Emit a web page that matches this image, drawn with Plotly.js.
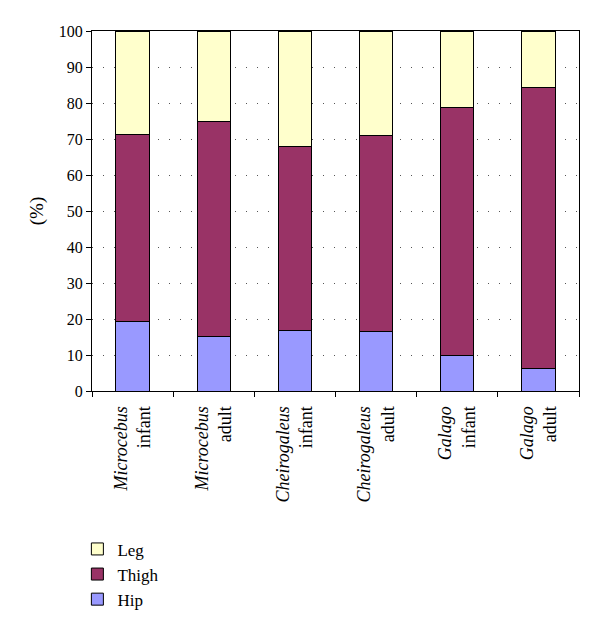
<!DOCTYPE html>
<html>
<head>
<meta charset="utf-8">
<script src="https://cdn.plot.ly/plotly-3.0.1.min.js"></script>
<style>
  html, body { margin: 0; padding: 0; background: #fff; }
  #graphDiv { width: 600px; height: 630px; }
</style>
</head>
<body>
<div id="graphDiv"></div>
<script>
// Groups along the x axis (genus in italics, age below)
var genus = ['Microcebus', 'Microcebus', 'Cheirogaleus', 'Cheirogaleus', 'Galago', 'Galago'];
var age = ['infant', 'adult', 'infant', 'adult', 'infant', 'adult'];

// Share of each segment, in percent
var hip = [19.4, 15.1, 16.8, 16.4, 9.9, 6.2];
var thigh = [51.9, 59.8, 51.0, 54.7, 68.9, 78.1];
var leg = [28.7, 25.1, 32.2, 28.9, 21.2, 15.7];

var yTicks = [0, 10, 20, 30, 40, 50, 60, 70, 80, 90, 100];

var labels = [];
for (var i = 0; i < genus.length; i++) {
  labels.push('<i>' + genus[i] + '</i><br>' + age[i]);
}

function barTrace(name, values, color) {
  return {
    x: labels,
    y: values,
    type: 'bar',
    name: name,
    marker: { color: color, line: { color: '#000', width: 1 } },
    hoverinfo: 'none'
  };
}

var data = [
  barTrace('Hip', hip, '#9999FF'),
  barTrace('Thigh', thigh, '#993366'),
  barTrace('Leg', leg, '#FFFFCC')
];

var layout = {
  width: 600,
  height: 630,
  margin: { l: 92, r: 21, t: 31, b: 237 },
  barmode: 'stack',
  bargap: 0.59,
  paper_bgcolor: '#fff',
  plot_bgcolor: '#fff',
  font: { family: 'Liberation Serif, serif', size: 16, color: '#000' },
  showlegend: true,
  legend: {
    x: -0.03, xanchor: 'left',
    y: -0.39, yanchor: 'top',
    traceorder: 'reversed',
    font: { size: 17 },
    itemwidth: 30
  },
  xaxis: {
    type: 'category',
    tickangle: -90,
    ticks: 'outside',
    tickson: 'boundaries',
    ticklen: 5,
    tickcolor: '#000',
    ticklabelstandoff: 7,
    showline: true,
    mirror: true,
    linecolor: '#000',
    linewidth: 1,
    showgrid: false,
    tickfont: { size: 18 }
  },
  yaxis: {
    range: [0, 100],
    tickvals: yTicks,
    ticks: 'outside',
    ticklen: 5,
    tickcolor: '#000',
    showline: true,
    mirror: true,
    linecolor: '#000',
    linewidth: 1,
    showgrid: true,
    gridcolor: '#555',
    griddash: '1px,10px',
    zeroline: false,
    title: { text: '(%)', standoff: 10 }
  }
};

Plotly.newPlot('graphDiv', data, layout, { displayModeBar: false, staticPlot: true });
</script>
</body>
</html>
